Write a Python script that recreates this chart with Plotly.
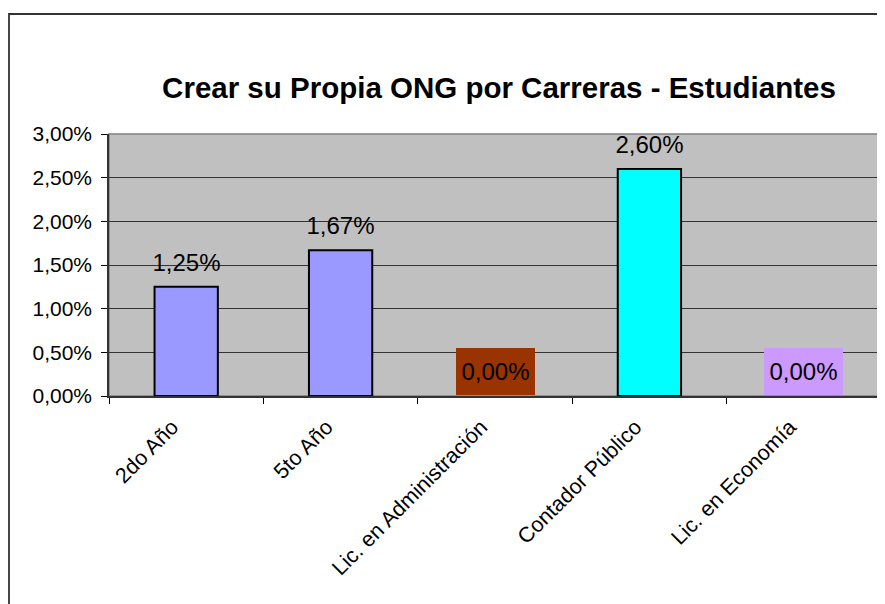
import plotly.graph_objects as go

categories = ["2do Año", "5to Año", "Lic. en Administración", "Contador Público", "Lic. en Economía"]
values = [0.0125, 0.0167, 0.0, 0.026, 0.0]
bar_colors = ["#9999FF", "#9999FF", "#993300", "#00FFFF", "#CC99FF"]
label_bg = ["rgba(0,0,0,0)", "rgba(0,0,0,0)", "#993300", "rgba(0,0,0,0)", "#CC99FF"]
y_ticks = [0, 0.005, 0.01, 0.015, 0.02, 0.025, 0.03]
title_text = "Crear su Propia ONG por Carreras - Estudiantes"

FONT = "Liberation Sans, Arial, sans-serif"

# page body has an 8px margin; figure coordinates = screen - 8
W, H = 877, 596
L, R, T, B = 101, 873, 126, 388
pw, ph = R - L, B - T

fig = go.Figure()
fig.add_trace(go.Bar(
    x=categories, y=values,
    marker=dict(color=bar_colors,
                line=dict(color="black", width=[0 if v == 0 else 2 for v in values])),
    hoverinfo="skip",
))

def fmt(v):
    return f"{v*100:.2f}%".replace(".", ",")

annotations = []
for c, v, bg in zip(categories, values, label_bg):
    annotations.append(dict(
        x=c, y=v, xref="x", yref="y", text=fmt(v), showarrow=False,
        yanchor="bottom", xanchor="center", yshift=1,
        width=79, height=47, bgcolor=bg, valign="middle",
        borderpad=0, borderwidth=0,
        font=dict(family=FONT, size=24, color="black"),
    ))

shapes = [
    dict(type="rect", xref="paper", yref="paper", x0=0, x1=1, y0=0, y1=1,
         line=dict(color="#808080", width=1.5), layer="below"),
    dict(type="rect", xref="paper", yref="paper",
         x0=(1 - L) / pw, x1=(W + 10 - L) / pw,
         y0=(B - (H + 10)) / ph, y1=(B - 6) / ph,
         line=dict(color="#333333", width=1.8), layer="above"),
]

fig.update_layout(
    width=W, height=H,
    margin=dict(l=L, r=W - R, t=T, b=H - B, pad=0),
    paper_bgcolor="white", plot_bgcolor="#C0C0C0",
    separators=",.",
    showlegend=False,
    bargap=0.59,
    font=dict(family=FONT, color="black"),
    title=dict(text="<b>" + title_text + "</b>", x=491 / W, xref="container",
               xanchor="center", y=1 - 80 / H, yanchor="middle", yref="container",
               font=dict(family=FONT, size=29.5, color="black")),
    xaxis=dict(type="category", tickson="boundaries", ticks="outside", ticklen=6,
               tickcolor="black", tickwidth=1, showline=True, linecolor="#333333",
               linewidth=2, tickangle=-45, showgrid=False,
               ticklabelshift=-14, ticklabelstandoff=8,
               tickfont=dict(family=FONT, size=21.5, color="black")),
    yaxis=dict(range=[0, 0.03], tickvals=y_ticks, tickformat=".2%", ticks="outside",
               ticklen=6, tickcolor="black", showline=True, linecolor="#333333",
               linewidth=1.5, showgrid=True, gridcolor="#333333", gridwidth=1,
               zeroline=False, ticklabelstandoff=5,
               tickfont=dict(family=FONT, size=21, color="black")),
    annotations=annotations,
    shapes=shapes,
)

fig.write_html("out.html")
